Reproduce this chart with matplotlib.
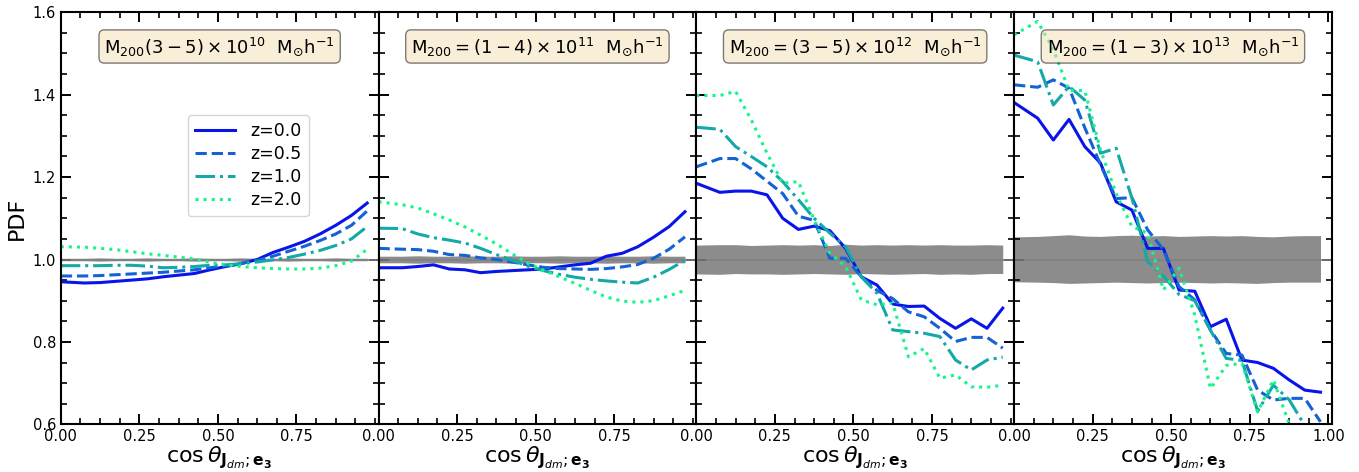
import matplotlib
matplotlib.use('Agg')
import matplotlib.pyplot as plt
from matplotlib.ticker import MultipleLocator

x = [0.0, 0.075, 0.125, 0.175, 0.225, 0.275, 0.325, 0.375, 0.425, 0.475,
     0.525, 0.575, 0.625, 0.675, 0.725, 0.775, 0.825, 0.875, 0.925, 0.975]

redshifts = ['z=0.0', 'z=0.5', 'z=1.0', 'z=2.0']
titles = [r'$\mathrm{M_{200}(3-5)\times10^{10}\ \ M_{\odot}h^{-1}}$',
          r'$\mathrm{M_{200}=(1-4)\times10^{11}\ \ M_{\odot}h^{-1}}$',
          r'$\mathrm{M_{200}=(3-5)\times10^{12}\ \ M_{\odot}h^{-1}}$',
          r'$\mathrm{M_{200}=(1-3)\times10^{13}\ \ M_{\odot}h^{-1}}$']

# panel 1: 10^10
p1_z0 = [0.946, 0.943, 0.944, 0.947, 0.950, 0.953, 0.958, 0.962, 0.966, 0.975,
         0.983, 0.990, 1.000, 1.017, 1.030, 1.044, 1.062, 1.083, 1.107, 1.137]
p1_z05 = [0.960, 0.960, 0.961, 0.963, 0.965, 0.967, 0.969, 0.972, 0.975, 0.980,
          0.985, 0.991, 0.998, 1.008, 1.020, 1.032, 1.046, 1.062, 1.083, 1.118]
p1_z1 = [0.985, 0.985, 0.985, 0.986, 0.986, 0.984, 0.980, 0.981, 0.983, 0.986,
         0.987, 0.990, 0.994, 0.999, 1.005, 1.013, 1.022, 1.034, 1.050, 1.080]
p1_z2 = [1.031, 1.030, 1.027, 1.024, 1.019, 1.014, 1.010, 1.006, 1.001, 0.993,
         0.987, 0.983, 0.980, 0.978, 0.977, 0.977, 0.979, 0.985, 0.996, 1.025]
p1_hi = [1.003, 1.003, 1.004, 1.003, 1.003, 1.004, 1.003, 1.003, 1.004, 1.003,
         1.003, 1.004, 1.003, 1.003, 1.004, 1.003, 1.003, 1.004, 1.003, 1.003]
p1_lo = [0.997, 0.997, 0.996, 0.997, 0.997, 0.996, 0.997, 0.997, 0.996, 0.997,
         0.997, 0.996, 0.997, 0.997, 0.996, 0.997, 0.997, 0.996, 0.997, 0.997]

# panel 2: 10^11
p2_z0 = [0.980, 0.980, 0.983, 0.987, 0.977, 0.975, 0.968, 0.971, 0.973, 0.975,
         0.977, 0.982, 0.987, 0.991, 1.008, 1.015, 1.031, 1.054, 1.080, 1.116]
p2_z05 = [1.027, 1.025, 1.024, 1.020, 1.012, 1.010, 1.004, 1.000, 0.994, 0.987,
          0.981, 0.978, 0.977, 0.976, 0.978, 0.982, 0.988, 1.003, 1.025, 1.055]
p2_z1 = [1.076, 1.075, 1.062, 1.053, 1.047, 1.040, 1.027, 1.012, 0.998, 0.984,
         0.973, 0.964, 0.957, 0.952, 0.948, 0.945, 0.943, 0.957, 0.976, 0.998]
p2_z2 = [1.140, 1.133, 1.125, 1.111, 1.096, 1.079, 1.059, 1.038, 1.014, 0.991,
         0.974, 0.958, 0.942, 0.925, 0.909, 0.899, 0.896, 0.900, 0.912, 0.925]
p2_hi = [1.008, 1.008, 1.009, 1.008, 1.008, 1.009, 1.008, 1.008, 1.009, 1.008,
         1.008, 1.009, 1.008, 1.008, 1.009, 1.008, 1.008, 1.009, 1.008, 1.008]
p2_lo = [0.992, 0.992, 0.991, 0.992, 0.992, 0.991, 0.992, 0.992, 0.991, 0.992,
         0.992, 0.991, 0.992, 0.992, 0.991, 0.992, 0.992, 0.991, 0.992, 0.992]

# panel 3: 10^12
p3_z0 = [1.185, 1.163, 1.166, 1.166, 1.157, 1.100, 1.073, 1.081, 1.070, 1.027,
         0.958, 0.938, 0.892, 0.886, 0.887, 0.857, 0.833, 0.856, 0.833, 0.882]
p3_z05 = [1.225, 1.245, 1.245, 1.220, 1.190, 1.160, 1.105, 1.095, 1.003, 1.003,
          0.958, 0.925, 0.905, 0.873, 0.861, 0.833, 0.801, 0.811, 0.811, 0.785]
p3_z1 = [1.321, 1.316, 1.274, 1.250, 1.225, 1.189, 1.145, 1.100, 1.064, 1.031,
         0.958, 0.918, 0.829, 0.825, 0.821, 0.813, 0.756, 0.732, 0.756, 0.763]
p3_z2 = [1.398, 1.398, 1.408, 1.339, 1.258, 1.185, 1.189, 1.096, 1.015, 0.983,
         0.902, 0.890, 0.894, 0.764, 0.784, 0.712, 0.720, 0.691, 0.690, 0.695]
p3_hi = [1.035, 1.036, 1.036, 1.034, 1.035, 1.036, 1.035, 1.036, 1.034, 1.037,
         1.035, 1.036, 1.035, 1.036, 1.035, 1.036, 1.035, 1.035, 1.036, 1.035]
p3_lo = [0.965, 0.964, 0.966, 0.965, 0.965, 0.964, 0.965, 0.966, 0.965, 0.964,
         0.966, 0.965, 0.964, 0.965, 0.966, 0.964, 0.965, 0.964, 0.966, 0.966]

# panel 4: 10^13
p4_z0 = [1.381, 1.343, 1.290, 1.340, 1.274, 1.234, 1.140, 1.120, 1.027, 1.027,
         0.926, 0.923, 0.837, 0.855, 0.756, 0.750, 0.736, 0.708, 0.683, 0.678]
p4_z05 = [1.424, 1.418, 1.436, 1.416, 1.320, 1.230, 1.148, 1.150, 1.072, 1.024,
          0.934, 0.902, 0.829, 0.772, 0.768, 0.683, 0.659, 0.663, 0.663, 0.606]
p4_z1 = [1.496, 1.480, 1.375, 1.420, 1.387, 1.258, 1.270, 1.149, 0.995, 0.960,
         0.915, 0.900, 0.828, 0.760, 0.755, 0.632, 0.695, 0.660, 0.597, 0.550]
p4_z2 = [1.545, 1.578, 1.510, 1.410, 1.410, 1.266, 1.160, 1.080, 1.064, 0.926,
         0.979, 0.865, 0.687, 0.743, 0.748, 0.630, 0.708, 0.602, 0.575, 0.550]
p4_hi = [1.055, 1.056, 1.058, 1.060, 1.057, 1.056, 1.058, 1.059, 1.057, 1.058,
         1.056, 1.057, 1.058, 1.057, 1.058, 1.056, 1.055, 1.057, 1.058, 1.058]
p4_lo = [0.946, 0.945, 0.944, 0.942, 0.943, 0.944, 0.945, 0.944, 0.943, 0.944,
         0.945, 0.944, 0.943, 0.944, 0.943, 0.942, 0.944, 0.945, 0.945, 0.945]

panels = [(p1_z0, p1_z05, p1_z1, p1_z2, p1_hi, p1_lo),
          (p2_z0, p2_z05, p2_z1, p2_z2, p2_hi, p2_lo),
          (p3_z0, p3_z05, p3_z1, p3_z2, p3_hi, p3_lo),
          (p4_z0, p4_z05, p4_z1, p4_z2, p4_hi, p4_lo)]

colors = ['#0814e8', '#1462d6', '#14a8a8', '#14f58a']
styles = ['-', '--', '-.', ':']

fig, axes = plt.subplots(1, 4, figsize=(13.59, 4.72), dpi=100, sharey=True)
plt.subplots_adjust(left=0.0447, right=0.98, top=0.974, bottom=0.101, wspace=0)

for i, ax in enumerate(axes):
    z0, z05, z1, z2, hi, lo = panels[i]
    ax.fill_between(x, lo, hi, color='#8c8c8c', lw=0)
    ax.axhline(1.0, color='gray', lw=1.2)
    for j, y in enumerate([z0, z05, z1, z2]):
        ax.plot(x, y, color=colors[j], ls=styles[j], lw=2.2, label=redshifts[j])
    ax.set_xlim(0, 1.011)
    ax.set_ylim(0.6, 1.6)
    if i < 3:
        ax.set_xticks([0, 0.25, 0.5, 0.75])
    else:
        ax.set_xticks([0, 0.25, 0.5, 0.75, 1.0])
    ax.xaxis.set_minor_locator(MultipleLocator(0.0625))
    ax.yaxis.set_major_locator(MultipleLocator(0.2))
    ax.yaxis.set_minor_locator(MultipleLocator(0.05))
    ax.tick_params(which='both', direction='in', top=True, right=True, labelsize=10.5)
    ax.tick_params(which='major', length=7, width=1.4)
    ax.tick_params(which='minor', length=4, width=1.2)
    for s in ax.spines.values():
        s.set_linewidth(1.5)
    ax.set_xlabel(r'$\cos\theta_{\mathbf{J}_{dm};\mathbf{e_3}}$', fontsize=16, labelpad=0)
    ax.text(0.5, 0.917, titles[i], transform=ax.transAxes, ha='center', va='center',
            fontsize=13, bbox=dict(boxstyle='round', facecolor='wheat', alpha=0.5))

axes[0].set_ylabel('PDF', fontsize=16)
axes[0].legend(loc='upper left', bbox_to_anchor=(0.40, 0.751), borderaxespad=0,
               fontsize=12.5, handlelength=2.3, handletextpad=0.9, labelspacing=0.3)

plt.savefig('out.png')
